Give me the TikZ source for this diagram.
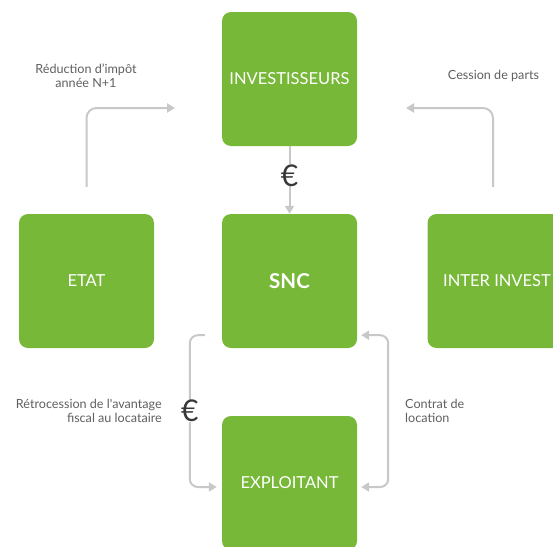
\documentclass[tikz,border=0pt]{standalone}
\usepackage{fontspec}
\newfontfamily\lato{Lato}
\usetikzlibrary{arrows.meta}
\definecolor{boxgreen}{RGB}{119,184,57}
\definecolor{flowgray}{RGB}{200,200,200}
\definecolor{textgray}{RGB}{95,95,95}
\definecolor{eurogray}{RGB}{55,55,55}
\begin{document}
\begin{tikzpicture}[x=1pt, y=-1pt,
  every node/.append style={font=\lato},
  boxsty/.style={fill=boxgreen, rounded corners=9pt, minimum width=135pt, minimum height=134pt,
    inner sep=0pt, text=white, font=\lato\fontsize{16.5}{18}\selectfont},
  flow/.style={draw=flowgray, line width=2pt, -{Triangle[width=9pt,length=8pt]}},
  flowboth/.style={draw=flowgray, line width=2pt, {Triangle[width=9pt,length=8pt]}-{Triangle[width=9pt,length=8pt]}},
  labelsty/.style={text=textgray, font=\lato\fontsize{12.6}{14.2}\selectfont, inner sep=0pt},
  eurosty/.style={fill=white, text=eurogray, font=\lato\fontsize{30}{30}\selectfont, inner sep=0pt}]

\useasboundingbox (0,0) rectangle (553,546);

\node[boxsty] (invest) at (289.5,79) {INVESTISSEURS};
\node[boxsty, font=\lato\bfseries\fontsize{20.5}{22}\selectfont] (snc) at (289.5,281) {SNC};
\node[boxsty] (etat) at (86.5,281) {ETAT};
\node[boxsty] (inter) at (495,281) {\hspace*{4pt}INTER INVEST};
\node[boxsty] (exploit) at (289.5,483) {EXPLOITANT};

\coordinate (reducTip) at (175,108);
\coordinate (cessionTip) at (406,108);

\draw[flow, rounded corners=10pt] ([yshift=27pt]etat.north) |- (reducTip);
\draw[flow, rounded corners=10pt] ([xshift=-2pt, yshift=27pt]inter.north) |- (cessionTip);

\draw[flow] (invest.south) -- (snc.north) node[eurosty, pos=0.43] (euroA) {€};

\draw[flow, rounded corners=8pt] ([xshift=-17pt, yshift=13pt]snc.south west) -- ++(-15,0)
  |- ([xshift=-5pt, yshift=-4pt]exploit.west) node[eurosty, pos=0.25] (euroB) {€};
\draw[flowboth, rounded corners=8pt] ([xshift=4pt, yshift=13pt]snc.south east) -- ++(27,0)
  |- ([xshift=4pt, yshift=-4pt]exploit.east);

\node[labelsty, align=center] (reduc) at (86,76) {Réduction d’impôt\\année N+1};
\node[labelsty] (cession) at (493.5,76) {Cession de parts};
\node[labelsty, align=right, anchor=east] (retro) at (162,411) {Rétrocession de l'avantage\\fiscal au locataire};
\node[labelsty, align=left, anchor=west] (contrat) at (405,411) {Contrat de\\location};

\end{tikzpicture}
\end{document}
